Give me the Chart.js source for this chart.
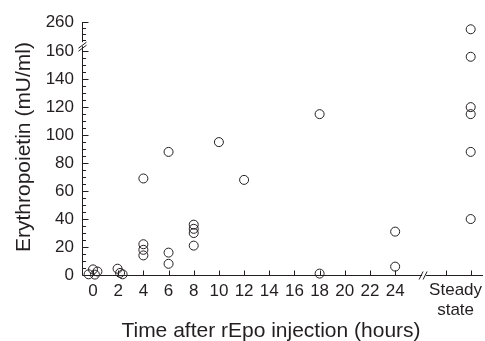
<!DOCTYPE html>
<html><head><meta charset="utf-8">
<script src="https://cdn.jsdelivr.net/npm/chart.js@4/dist/chart.umd.min.js"></script>
<style>html,body{margin:0;padding:0;background:#fff}canvas{display:block}</style>
</head><body>
<canvas id="c" width="485" height="341" style="width:485px;height:341px"></canvas>
<script>
// ---- data ----
const timeHours = [-0.35, 0, 0.35, 0.15, 1.95, 2.15, 2.35, 4, 4, 4, 4, 6, 6, 6, 8, 8, 8, 8, 10, 12, 18, 18, 24, 24];
const epoTimed  = [0.5, 4, 2.5, 0.3, 4.5, 1.5, 0.5, 69, 22, 18, 14, 88, 16, 8, 36, 33, 30, 21, 95, 68, 115, 1, 31, 6];
const steadyEpo = [235, 156, 120, 115, 88, 40];
const xTickHours = [0, 2, 4, 6, 8, 10, 12, 14, 16, 18, 20, 22, 24];
const steadyLabel = ['Steady', 'state'];
const yTickLabels = [0, 20, 40, 60, 80, 100, 120, 140, 160, 260];
const yMinorTicks = [5, 10, 15, 25, 30, 35, 45, 50, 55, 65, 70, 75, 85, 90, 95, 105, 110, 115, 125, 130, 135, 145, 150, 155, 200, 220, 240];
const xTitle = 'Time after rEpo injection (hours)';
const yTitle = 'Erythropoietin (mU/ml)';

// ---- broken-axis layout ----
const STEADY_X = 30, GAP_TICK_X = 28, X_BREAK = 26.3, STEADY_LABEL_X = 28.8, X_AXIS_END = 31.0;
const Y_BREAK_AT = 160, Y_UPPER_FACTOR = 0.2086, Y_BREAK_DRAW = 165;
function mapY(v) { return v <= Y_BREAK_AT ? v : Y_BREAK_AT + (v - Y_BREAK_AT) * Y_UPPER_FACTOR; }

const INK = '#231f20';
const FONT = '"Liberation Sans", Arial, Helvetica, sans-serif';
Chart.defaults.font.family = FONT;
Chart.defaults.color = INK;

const timedPts = timeHours.map((h, i) => ({x: h, y: mapY(epoTimed[i])}));
const steadyPts = steadyEpo.map(v => ({x: STEADY_X, y: mapY(v)}));

const decor = {
  id: 'decor',
  afterDraw(chart) {
    const {ctx, scales: {x, y}, chartArea: a} = chart;
    ctx.save();
    ctx.strokeStyle = INK; ctx.lineWidth = 1;
    const L = Math.round(a.left) + 0.5, B = Math.round(a.bottom) + 0.5;
    const line = (x1, y1, x2, y2) => { ctx.beginPath(); ctx.moveTo(x1, y1); ctx.lineTo(x2, y2); ctx.stroke(); };
    // y axis line with break
    const yb = y.getPixelForValue(Y_BREAK_DRAW);
    line(L, Math.round(a.top), L, yb - 2);
    line(L, yb + 2, L, B);
    // x axis line with break
    const xb = x.getPixelForValue(X_BREAK);
    line(L, B, xb - 2, B);
    line(xb + 2, B, Math.round(x.getPixelForValue(X_AXIS_END)), B);
    // y ticks
    yTickLabels.forEach(v => { const p = Math.round(y.getPixelForValue(mapY(v))) + 0.5; line(L, p, L + 6, p); });
    yMinorTicks.forEach(v => { const p = Math.round(y.getPixelForValue(mapY(v))) + 0.5; line(L, p, L + 3.5, p); });
    // x ticks
    [...xTickHours, GAP_TICK_X, STEADY_X].forEach(v => { const p = Math.round(x.getPixelForValue(v)) + 0.5; line(p, B, p, B - 5); });
    // break marks
    line(xb - 5, B + 4, xb - 1, B - 4);
    line(xb - 1, B + 4, xb + 3, B - 4);
    line(L - 4, yb + 4, L + 4, yb - 2);
    line(L - 4, yb + 7, L + 4, yb + 1);
    ctx.fillStyle = INK;
    // steady-state category label (two lines, set slightly left of its tick as in the reference)
    ctx.font = '17px ' + FONT;
    ctx.textAlign = 'center'; ctx.textBaseline = 'middle';
    const sx = x.getPixelForValue(STEADY_LABEL_X);
    steadyLabel.forEach((t, i) => ctx.fillText(t, sx, 290 + i * 20.4));
    // titles
    ctx.font = '21px ' + FONT;
    ctx.textAlign = 'center'; ctx.textBaseline = 'alphabetic';
    ctx.fillText(xTitle, 271, 337);
    ctx.translate(30, 147);
    ctx.rotate(-Math.PI / 2);
    ctx.fillText(yTitle, 0, 0);
    ctx.restore();
  }
};

new Chart(document.getElementById('c'), {
  type: 'scatter',
  data: {
    datasets: [
      {data: timedPts, pointRadius: 4.5, borderWidth: 1, borderColor: INK, backgroundColor: 'rgba(255,255,255,0)', clip: false},
      {data: steadyPts, pointRadius: 4.5, borderWidth: 1, borderColor: INK, backgroundColor: 'rgba(255,255,255,0)', clip: false}
    ]
  },
  options: {
    responsive: false, animation: false, devicePixelRatio: 1,
    layout: {padding: {top: 22, right: 0, left: 0, bottom: 0}},
    plugins: {legend: {display: false}, tooltip: {enabled: false}},
    scales: {
      x: {
        type: 'linear', min: -0.875, max: 30.7,
        grid: {display: false, drawTicks: false}, border: {display: false},
        afterBuildTicks: s => { s.ticks = [...xTickHours, GAP_TICK_X, STEADY_X].map(v => ({value: v})); },
        afterFit: s => { s.height = 66; s.paddingLeft = 0; s.paddingRight = 0; },
        ticks: {
          autoSkip: false, maxRotation: 0, padding: 6, font: {size: 17}, color: INK,
          callback: v => xTickHours.includes(v) ? String(v) : ''
        }
      },
      y: {
        type: 'linear', min: 0, max: mapY(260),
        grid: {display: false, drawTicks: false}, border: {display: false},
        afterBuildTicks: s => { s.ticks = yTickLabels.map(v => ({value: mapY(v)})); },
        afterFit: s => { s.width = 82; s.paddingTop = 0; s.paddingBottom = 0; },
        ticks: {
          autoSkip: false, padding: 8, font: {size: 17}, color: INK,
          callback: (v, i) => String(yTickLabels[i])
        }
      }
    }
  },
  plugins: [decor]
});
</script>
</body></html>
